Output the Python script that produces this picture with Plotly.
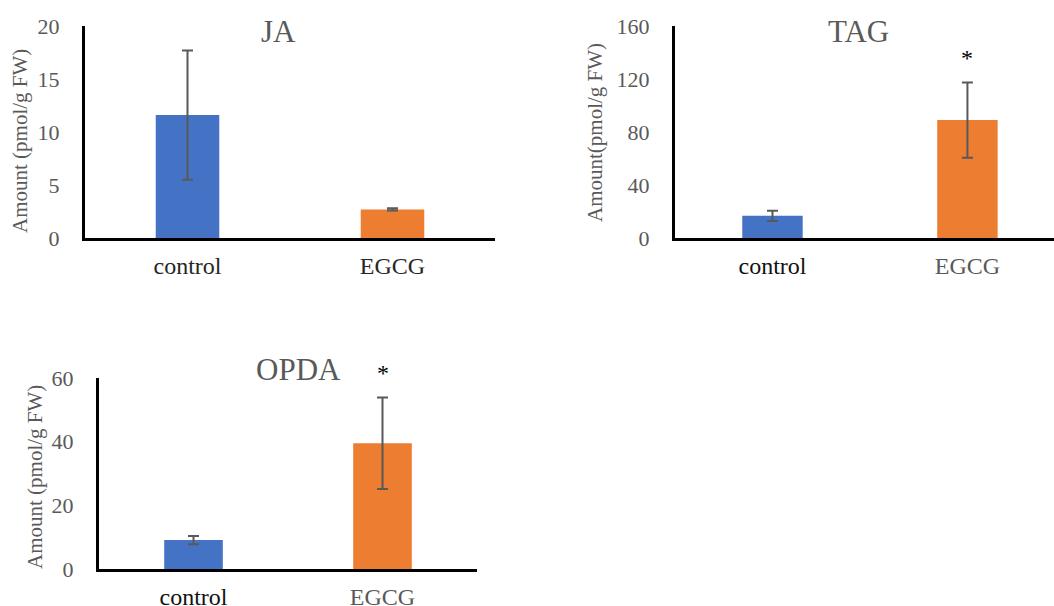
import plotly.graph_objects as go

categories = ["control", "EGCG"]

ja_mean = [11.6, 2.7]
ja_err = [6.1, 0.1]

tag_mean = [16.7, 89.0]
tag_err = [3.8, 28.4]

opda_mean = [9.1, 39.5]
opda_err = [1.3, 14.4]

panel_titles = ["JA", "TAG", "OPDA"]
ylabels = ["Amount (pmol/g FW)", "Amount(pmol/g FW)", "Amount (pmol/g FW)"]
significant = [[False, False], [False, True], [False, True]]

bar_colors = ["#4472C4", "#ED7D31"]
grey = "#595959"
font = "Liberation Serif"

W, H = 1054, 606

def px(x):
    return x / W

def py(y):
    return 1 - y / H

fig = go.Figure()

panels = [
    dict(mean=ja_mean, err=ja_err, xa="x", ya="y", xd=[px(85), px(495)], yd=[py(238), py(26)],
         yr=[0, 20], dt=5, xr=[-0.5, 1.5]),
    dict(mean=tag_mean, err=tag_err, xa="x2", ya="y2", xd=[px(675), 1.0], yd=[py(238), py(26)],
         yr=[0, 160], dt=40, xr=[-0.5, 1.444]),
    dict(mean=opda_mean, err=opda_err, xa="x3", ya="y3", xd=[px(99), px(477)], yd=[py(569), py(378)],
         yr=[0, 60], dt=20, xr=[-0.5, 1.5]),
]

tick_colors = [["#262626", "#262626"], ["#111111", grey], ["#111111", grey]]

for i, p in enumerate(panels):
    fig.add_trace(go.Bar(
        x=categories, y=p["mean"], xaxis=p["xa"], yaxis=p["ya"],
        marker=dict(color=bar_colors, line=dict(width=0)),
        width=0.31,
        error_y=dict(type="data", array=p["err"], visible=True, color=grey, thickness=2, width=5.5),
        showlegend=False,
    ))
    suffix = "" if i == 0 else str(i + 1)
    ticktext = [f"<span style='color:{c}'>{t}</span>" for t, c in zip(categories, tick_colors[i])]
    fig.layout["xaxis" + suffix] = dict(
        domain=p["xd"], range=p["xr"], anchor=p["ya"],
        showline=True, linecolor="black", linewidth=3,
        showgrid=False, zeroline=False,
        ticks="outside", ticklen=4, tickcolor="rgba(0,0,0,0)",
        tickmode="array", tickvals=categories, ticktext=ticktext,
        tickfont=dict(family=font, size=24, color="#111111"),
        fixedrange=True, automargin=False,
    )
    fig.layout["yaxis" + suffix] = dict(
        domain=p["yd"], range=p["yr"], anchor=p["xa"],
        showline=True, linecolor="black", linewidth=3,
        showgrid=False, zeroline=False,
        dtick=p["dt"], tick0=0,
        ticks="outside", ticklen=18, tickcolor="rgba(0,0,0,0)",
        tickfont=dict(family=font, size=22, color=grey),
        fixedrange=True, automargin=False,
    )
    for j, cat in enumerate(categories):
        if significant[i][j]:
            fig.add_annotation(
                x=cat, y=p["mean"][j] + p["err"][j], xref=p["xa"], yref=p["ya"],
                text="*", showarrow=False, yanchor="bottom", yshift=9,
                font=dict(family=font, size=24, color="black"),
            )

title_pos = [(278, 31), (858, 31), (298, 369)]
ylabel_pos = [(20, 141), (595, 133), (35, 477)]

for i in range(3):
    tx, ty = title_pos[i]
    fig.add_annotation(x=px(tx), y=py(ty), xref="paper", yref="paper", text=panel_titles[i],
                       showarrow=False, xanchor="center", yanchor="middle",
                       font=dict(family=font, size=31, color=grey))
    lx, ly = ylabel_pos[i]
    fig.add_annotation(x=px(lx), y=py(ly), xref="paper", yref="paper", text=ylabels[i],
                       showarrow=False, xanchor="center", yanchor="middle", textangle=-90,
                       font=dict(family=font, size=21, color=grey))

fig.update_layout(
    width=W, height=H, autosize=False,
    margin=dict(l=0, r=0, t=0, b=0, pad=0, autoexpand=False),
    paper_bgcolor="white", plot_bgcolor="white",
)

fig.write_html(
    "out.html",
    config={"displayModeBar": False, "responsive": False},
    post_script="document.body.style.margin='0';document.body.style.overflow='hidden';",
)
